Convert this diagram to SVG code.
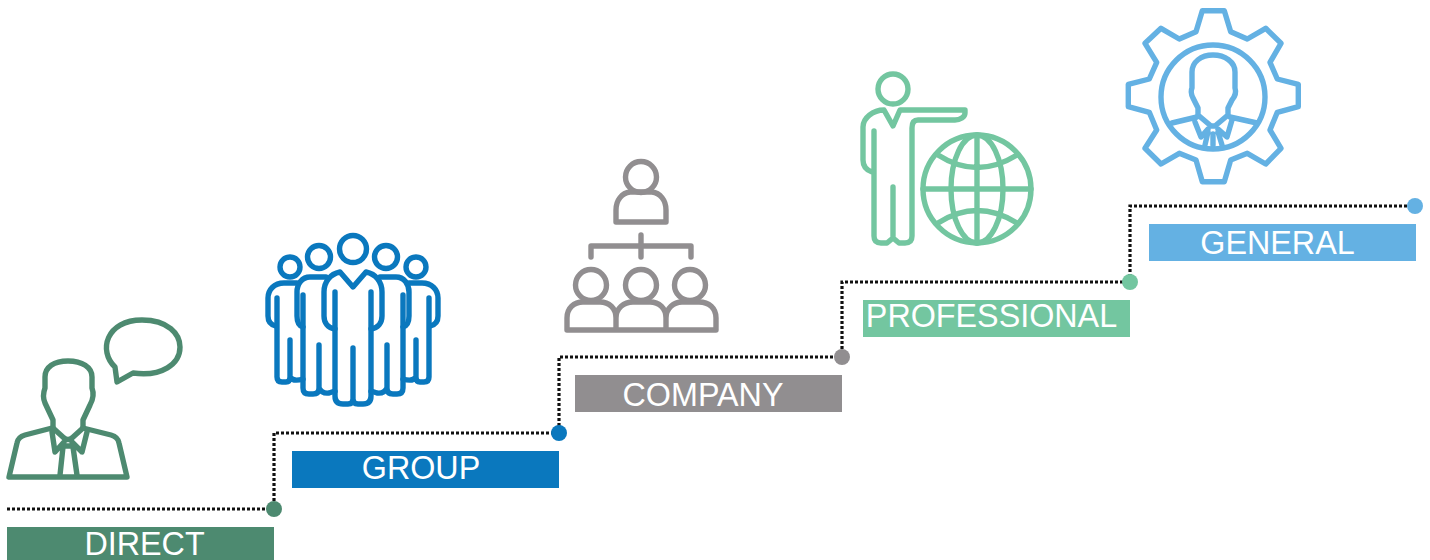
<svg xmlns="http://www.w3.org/2000/svg" width="1430" height="560" viewBox="0 0 1430 560">
<style>
.ic{fill:none;stroke-width:5.4;stroke-linecap:round;stroke-linejoin:round}
.lb{font-family:"Liberation Sans",Arial,sans-serif;font-size:32.3px;fill:#fff;text-anchor:middle}
.g1{stroke:#4d8a70}.g2{stroke:#0a78be}.g3{stroke:#918e90}.g4{stroke:#73c6a0}.g5{stroke:#64b1e3}
</style>
<rect width="1430" height="560" fill="#fff"/>
<g id="connectors"><path d="M7 509H274V433H559V357H842V282H1130V206H1415" fill="none" stroke="#111" stroke-width="3.2" stroke-dasharray="3 2"/></g>
<g id="direct">
<circle cx="274" cy="509" r="8" fill="#4d8a70"/>
<rect x="7" y="527" width="267" height="33" fill="#4d8a70"/>
<text class="lb" x="144.500" y="555">DIRECT</text>
<g class="ic g1">
<path d="M53 428V420L45 403Q42 396 45 388V377C45 367 54 361 68 361S92 367 92 377V388Q95 396 90 405L83 420V428"/>
<path d="M52 428L25 435Q18 437 17 443L9 477H127L119 443Q118 437 111 435L83 428"/>
<path d="M52 432L55 452L64 442M87 432L82 452L72 442M53 428L64 438Q68 441 72 438L83 428M63 447L60 475M73 447L77 475M63 446H73"/>
<path d="M115 367C98 351 106 320 142 320C168 320 180 334 180 347C180 364 162 377 133 373L117 382Z"/>
</g></g>
<g id="group">
<circle cx="559" cy="433" r="8" fill="#0a78be"/>
<rect x="292" y="451" width="267" height="37" fill="#0a78be"/>
<text class="lb" x="421" y="479">GROUP</text>
<g class="ic g2">
<circle cx="353" cy="249" r="13.500"/><circle cx="319" cy="257" r="11.500"/><circle cx="386" cy="257" r="11.500"/><circle cx="290" cy="267" r="10"/><circle cx="416" cy="267" r="10"/>
<path d="M335 329C328 328 324 323 324 316V292C324 282 330 274 340 272L353 287L366 272C376 274 382 282 382 292V316C382 323 378 328 371 329"/>
<path d="M335 292V396Q335 404 343 404H348Q353 404 353 399V348V399Q353 404 358 404H363Q371 404 371 396V292"/>
<path d="M326 277H310C302 277 297 284 297 292V316C297 322 299 326 303 327M380 277H396C404 277 409 284 409 292V316C409 322 407 326 403 327"/>
<path d="M303 295V388Q303 394 309 394H313Q319 394 319 388V345V388Q322 394 329 393L335 391M403 295V388Q403 394 397 394H393Q387 394 387 388V345V388Q384 394 377 393L371 391"/>
<path d="M297 283H284C274 283 268 290 268 298V316C268 322 271 325 276 326M409 283H422C432 283 438 290 438 298V316C438 322 435 325 430 326"/>
<path d="M277 298V377Q277 382 282 382H286Q290 382 290 377V340V377Q293 382 303 379M429 298V377Q429 382 424 382H420Q416 382 416 377V340V377Q413 382 403 379"/>
</g></g>
<g id="company">
<circle cx="842" cy="357" r="8" fill="#918e90"/>
<rect x="575" y="375" width="267" height="37" fill="#918e90"/>
<text class="lb" x="703" y="406">COMPANY</text>
<g class="ic g3">
<circle cx="641" cy="177" r="15.500"/>
<path d="M616 222V210C616 200 622 193 630 192H652C660 193 666 200 666 210V222Z"/>
<path d="M591 257V246H691V257M641 235V257"/>
<circle cx="591" cy="285" r="15.500"/><circle cx="641" cy="285" r="15.500"/><circle cx="690" cy="285" r="15.500"/>
<path d="M567 330V318C567 308 574 302 583 302H600C609 302 616 308 616 318V330M616 318C616 308 624 302 633 302H650C659 302 666 308 666 318V330M666 318C666 308 674 302 682 302H699C709 302 716 308 716 318V330M567 330H716"/>
</g></g>
<g id="professional">
<circle cx="1130" cy="282" r="8" fill="#73c6a0"/>
<rect x="863" y="300" width="267" height="37" fill="#73c6a0"/>
<text class="lb" x="991.500" y="327">PROFESSIONAL</text>
<g class="ic g4">
<circle cx="893" cy="89" r="15"/>
<path d="M872 172C866 170 863 166 863 160V127C863 118 873 110 884 110L893 126L900 110H965V113C965 117 960 120 955 120H918Q912 120 912 128V236Q912 243 905 243H899L893 238L887 243H881Q874 243 874 236V131M893 238V187"/>
<circle cx="977" cy="189" r="54"/>
<ellipse cx="977" cy="189" rx="26" ry="54"/>
<path d="M977 135V243M923 189H1031M938 155Q977 180 1017 155M938 223Q977 198 1017 223"/>
</g></g>
<g id="general">
<circle cx="1415" cy="206" r="8" fill="#64b1e3"/>
<rect x="1149" y="224" width="267" height="37" fill="#64b1e3"/>
<text class="lb" x="1277.500" y="254">GENERAL</text>
<g class="ic g5">
<path d="M1202.300 10.700H1224.300L1230.700 31.700L1247.300 39L1265.700 28.300L1281 43.300L1270 62.300L1277.300 79L1298.300 84.300V106.700L1277.300 112.300L1270 130L1281 148.300L1265.700 164L1247.300 153.300L1230.700 160L1224.300 181.700H1202.300L1196 160L1179.300 153.300L1161 164L1145 148.300L1156.700 130L1149.300 112.300L1128.300 106.700V84.300L1149.300 79L1156.700 62.300L1145 43.300L1161 28.300L1179.300 39L1196 31.700Z"/>
<circle cx="1213" cy="97" r="52"/>
<path d="M1198 115V108L1193 98Q1190 92 1192 88V72C1192 62 1201 55 1213 55S1235 62 1235 72V88Q1237 94 1232 100L1228 108V115L1215 126H1211L1198 115"/>
<path d="M1172 123L1197 117M1230 117L1257 123M1195 122L1201 137L1208 129M1232 120L1227 137L1218 129M1208 132L1205 145M1218 132L1222 145M1213 134V145"/>
</g></g>
</svg>
